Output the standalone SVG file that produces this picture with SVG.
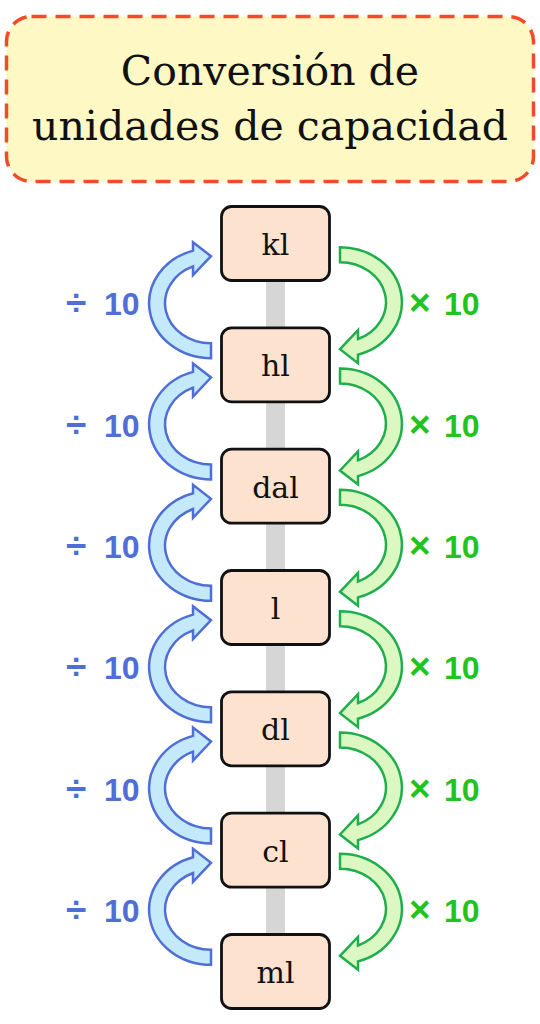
<svg xmlns="http://www.w3.org/2000/svg" width="540" height="1024" viewBox="0 0 540 1024">
<style>
.title{font-family:"DejaVu Serif","Liberation Serif",serif;font-size:41px;fill:#111;text-anchor:middle}
.box{fill:#fde2cf;stroke:#111;stroke-width:2.8}
.unit{font-family:"DejaVu Serif","Liberation Serif",serif;font-size:30px;fill:#111;text-anchor:middle}
.up{fill:#c3e9fb;stroke:#4f6fd6;stroke-width:2.5;stroke-linejoin:miter}
.down{fill:#dcf8c2;stroke:#1fae4b;stroke-width:2.5;stroke-linejoin:miter}
.div{font-family:"Liberation Sans",Arial,sans-serif;font-weight:bold;font-size:32px;fill:#4f6ed6}
.mul{font-family:"Liberation Sans",Arial,sans-serif;font-weight:bold;font-size:32px;fill:#1fc41f}
.op{font-size:37px}
</style>
<defs>
<path id="arc" d="M0,55 A62,55 0 0 1 -18,-52.6 L-18,-61 L0,-47 L-18,-28 L-18,-36.8 A46,40 0 0 0 0,40 Z"/>
</defs>
<g id="title">
<rect x="6.5" y="16.5" width="527" height="165" rx="25" fill="#fef9c4" stroke="#f24a2b" stroke-width="3.5" stroke-dasharray="15 9"/>
<text class="title" x="270" y="85">Conversión de</text>
<text class="title" x="270" y="140">unidades de capacidad</text>
</g>
<rect id="spine" x="266" y="243" width="19" height="729" fill="#d6d6d6"/>
<g id="connectors">
<use href="#arc" class="up" transform="translate(211,303.2)"/>
<use href="#arc" class="down" transform="translate(340,302.2) rotate(180)"/>
<use href="#arc" class="up" transform="translate(211,424.5)"/>
<use href="#arc" class="down" transform="translate(340,423.5) rotate(180)"/>
<use href="#arc" class="up" transform="translate(211,545.8)"/>
<use href="#arc" class="down" transform="translate(340,544.8) rotate(180)"/>
<use href="#arc" class="up" transform="translate(211,667.2)"/>
<use href="#arc" class="down" transform="translate(340,666.2) rotate(180)"/>
<use href="#arc" class="up" transform="translate(211,788.5)"/>
<use href="#arc" class="down" transform="translate(340,787.5) rotate(180)"/>
<use href="#arc" class="up" transform="translate(211,909.8)"/>
<use href="#arc" class="down" transform="translate(340,908.8) rotate(180)"/>
<text class="div" y="315.2"><tspan class="op" x="66">÷</tspan><tspan x="104">10</tspan></text>
<text class="mul" y="315.2"><tspan class="op" x="409">×</tspan><tspan x="444">10</tspan></text>
<text class="div" y="436.5"><tspan class="op" x="66">÷</tspan><tspan x="104">10</tspan></text>
<text class="mul" y="436.5"><tspan class="op" x="409">×</tspan><tspan x="444">10</tspan></text>
<text class="div" y="557.8"><tspan class="op" x="66">÷</tspan><tspan x="104">10</tspan></text>
<text class="mul" y="557.8"><tspan class="op" x="409">×</tspan><tspan x="444">10</tspan></text>
<text class="div" y="679.2"><tspan class="op" x="66">÷</tspan><tspan x="104">10</tspan></text>
<text class="mul" y="679.2"><tspan class="op" x="409">×</tspan><tspan x="444">10</tspan></text>
<text class="div" y="800.5"><tspan class="op" x="66">÷</tspan><tspan x="104">10</tspan></text>
<text class="mul" y="800.5"><tspan class="op" x="409">×</tspan><tspan x="444">10</tspan></text>
<text class="div" y="921.8"><tspan class="op" x="66">÷</tspan><tspan x="104">10</tspan></text>
<text class="mul" y="921.8"><tspan class="op" x="409">×</tspan><tspan x="444">10</tspan></text>
</g>
<g id="kl"><rect class="box" x="221.5" y="206.5" width="108" height="74" rx="10"/><text class="unit" x="275.5" y="255">kl</text></g>
<g id="hl"><rect class="box" x="221.5" y="327.8" width="108" height="74" rx="10"/><text class="unit" x="275.5" y="376.3">hl</text></g>
<g id="dal"><rect class="box" x="221.5" y="449.2" width="108" height="74" rx="10"/><text class="unit" x="275.5" y="497.7">dal</text></g>
<g id="l"><rect class="box" x="221.5" y="570.5" width="108" height="74" rx="10"/><text class="unit" x="275.5" y="619">l</text></g>
<g id="dl"><rect class="box" x="221.5" y="691.8" width="108" height="74" rx="10"/><text class="unit" x="275.5" y="740.3">dl</text></g>
<g id="cl"><rect class="box" x="221.5" y="813.2" width="108" height="74" rx="10"/><text class="unit" x="275.5" y="861.7">cl</text></g>
<g id="ml"><rect class="box" x="221.5" y="934.5" width="108" height="74" rx="10"/><text class="unit" x="275.5" y="983">ml</text></g>
</svg>
